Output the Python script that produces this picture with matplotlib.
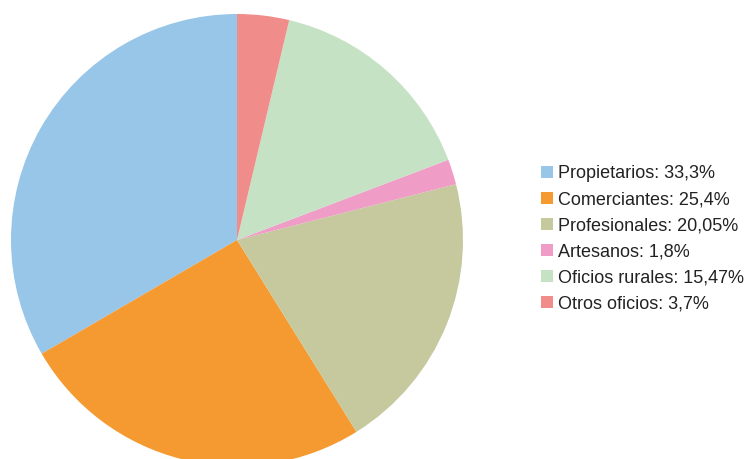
import matplotlib.pyplot as plt

labels = ['Propietarios', 'Comerciantes', 'Profesionales', 'Artesanos',
          'Oficios rurales', 'Otros oficios']
values = [33.3, 25.4, 20.05, 1.8, 15.47, 3.7]
value_text = ['33,3%', '25,4%', '20,05%', '1,8%', '15,47%', '3,7%']
colors = ['#97C6E8', '#F59A30', '#C5C99D', '#EF9DC6', '#C6E2C5', '#F08C8A']

plt.rcParams['font.family'] = ['Liberation Sans', 'DejaVu Sans']

fig = plt.figure(figsize=(7.5, 4.59), dpi=100)
# pie centre ~ (237, 240) px, radius ~ 226 px
ax = fig.add_axes([11/750, -7/459, 452/750, 452/459])
wedges, _ = ax.pie(values, colors=colors, startangle=90, counterclock=True,
                   radius=1.0, wedgeprops=dict(linewidth=0))
ax.set_xlim(-1, 1)
ax.set_ylim(-1, 1)
ax.set_aspect('equal')

leg_labels = [f'{l}: {v}' for l, v in zip(labels, value_text)]
fig.legend(wedges, leg_labels, loc='center left',
           bbox_to_anchor=(525/750, 1 - 239/459), frameon=False,
           fontsize=13, handlelength=0.65, handleheight=0.65,
           handletextpad=0.3, labelspacing=0.5, labelcolor='#222222')

fig.savefig('out.png', dpi=100)
